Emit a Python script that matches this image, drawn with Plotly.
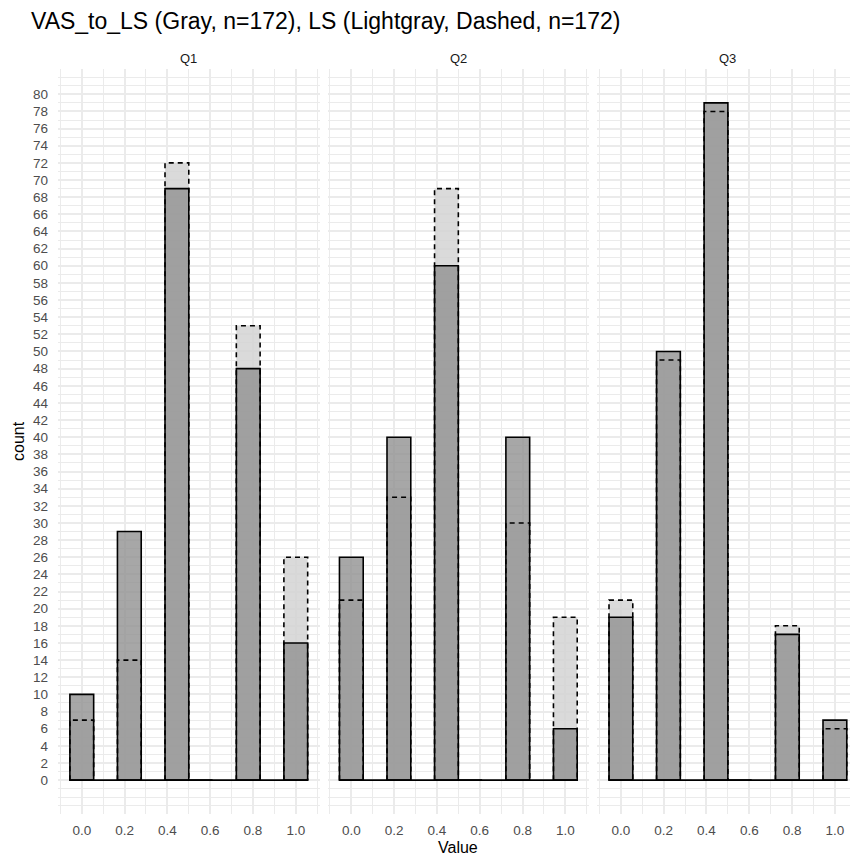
import plotly.graph_objects as go

# ---- data ----
values = [0.0, 0.2, 0.4, 0.6, 0.8, 1.0]
facets = ["Q1", "Q2", "Q3"]
vas_counts = {
    "Q1": [10, 29, 69, 0, 48, 16],
    "Q2": [26, 40, 60, 0, 40, 6],
    "Q3": [19, 50, 79, 0, 17, 7],
}
ls_counts = {
    "Q1": [7, 14, 72, 0, 53, 26],
    "Q2": [21, 33, 69, 0, 30, 19],
    "Q3": [21, 49, 78, 0, 18, 6],
}
n_bins = 10
y_ticks = list(range(0, 81, 2))
x_ticks = [0.0, 0.2, 0.4, 0.6, 0.8, 1.0]
title_text = "VAS_to_LS (Gray, n=172), LS (Lightgray, Dashed, n=172)"

# histogram binning (10 bins over [0,1], bin width 1/9, centred on k/9)
bw = 1.0 / (n_bins - 1)
def bin_center(v):
    return round(v / bw) * bw

FONT = "Liberation Sans, Arial, sans-serif"
VAS_FILL = "rgba(145,145,145,0.8)"
LS_FILL = "rgba(211,211,211,0.85)"

fig = go.Figure()

W, H = 850, 858
ml, mr, mt, mb = 58, 0, 69, 858 - 814
pw = W - ml - mr
ph = H - mt - mb
px_per_unit = 214.0
xlo = -bw / 2 - 0.05 * (1 + bw)
panel_w = (1 + bw) * 1.1 * px_per_unit
gap = 8
domains = []
for i in range(3):
    x0 = i * (panel_w + gap)
    x1 = min(x0 + panel_w, pw)
    domains.append((x0 / pw, x1 / pw, xlo + (x1 - x0) / px_per_unit, x0 + panel_w / 2))

ymin, ymax = -3.95, 82.95

for i, f in enumerate(facets):
    xa = "x" if i == 0 else f"x{i+1}"
    ya = "y" if i == 0 else f"y{i+1}"
    xc = [bin_center(v) for v in values]
    fig.add_trace(go.Bar(x=xc, y=ls_counts[f], width=bw, marker=dict(color=LS_FILL, line=dict(width=0)),
                         xaxis=xa, yaxis=ya, showlegend=False, hoverinfo="skip"))
    fig.add_trace(go.Bar(x=xc, y=vas_counts[f], width=bw,
                         marker=dict(color=VAS_FILL, line=dict(color="black", width=1.6)),
                         xaxis=xa, yaxis=ya, showlegend=False, hoverinfo="skip"))
    fig.add_trace(go.Scatter(x=[-bw / 2, 1 + bw / 2], y=[0, 0], mode="lines",
                             line=dict(color="black", width=1.6), xaxis=xa, yaxis=ya,
                             showlegend=False, hoverinfo="skip"))
    ox, oy = [], []
    for c, h in zip(xc, ls_counts[f]):
        if h <= 0:
            continue
        ox += [c - bw / 2, c - bw / 2, c + bw / 2, c + bw / 2, None]
        oy += [0, h, h, 0, None]
    fig.add_trace(go.Scatter(x=ox, y=oy, mode="lines",
                             line=dict(color="black", width=1.6, dash="5px,4px"),
                             xaxis=xa, yaxis=ya, showlegend=False, hoverinfo="skip"))

grid_major = "#ebebeb"
layout = dict(
    width=W, height=H,
    margin=dict(l=ml, r=mr, t=mt, b=mb),
    plot_bgcolor="white", paper_bgcolor="white",
    barmode="overlay",
    font=dict(family=FONT, color="#4d4d4d", size=13),
)
for i in range(3):
    d0, d1, xhi, _ = domains[i]
    xkey = "xaxis" if i == 0 else f"xaxis{i+1}"
    ykey = "yaxis" if i == 0 else f"yaxis{i+1}"
    layout[xkey] = dict(
        domain=[d0, d1], range=[xlo, xhi], anchor="y" if i == 0 else f"y{i+1}",
        tickmode="array", tickvals=x_ticks, tickformat=".1f",
        showgrid=True, gridcolor=grid_major, gridwidth=1.6,
        minor=dict(dtick=0.1, tick0=0, showgrid=True, gridcolor=grid_major, gridwidth=0.9),
        zeroline=False, showline=False, ticks="", ticklabelstandoff=6,
        tickfont=dict(size=13.5, color="#4d4d4d"),
    )
    layout[ykey] = dict(
        domain=[0, 1], range=[ymin, ymax], anchor="x" if i == 0 else f"x{i+1}",
        tickmode="array", tickvals=y_ticks,
        showgrid=True, gridcolor=grid_major, gridwidth=1.6,
        minor=dict(dtick=1, tick0=0, showgrid=True, gridcolor=grid_major, gridwidth=0.9),
        zeroline=False, showline=False, ticks="", showticklabels=(i == 0),
        ticklabelstandoff=9, tickfont=dict(size=13.5, color="#4d4d4d"),
    )

def ann(text, rx, ry, size, color, **kw):
    d = dict(text=text, x=(rx - ml) / pw, y=1 - (ry - mt) / ph, xref="paper", yref="paper",
             showarrow=False, font=dict(size=size, color=color, family=FONT))
    d.update(kw)
    return d

annotations = [
    ann(title_text, 29, 21, 23, "black", xanchor="left", yanchor="middle"),
    ann("count", 18, 441, 16, "black", textangle=-90, xanchor="center", yanchor="middle"),
    ann("Value", 458, 847, 16, "black", xanchor="center", yanchor="middle"),
]
for i, f in enumerate(facets):
    cx = domains[i][3] + ml
    annotations.append(ann(f, cx, 58, 13, "#1a1a1a", xanchor="center", yanchor="middle"))
layout["annotations"] = annotations

fig.update_layout(**layout)
fig.write_html("out.html",
               config={"displayModeBar": False},
               post_script="document.body.style.margin='0';document.body.style.overflow='hidden';")
